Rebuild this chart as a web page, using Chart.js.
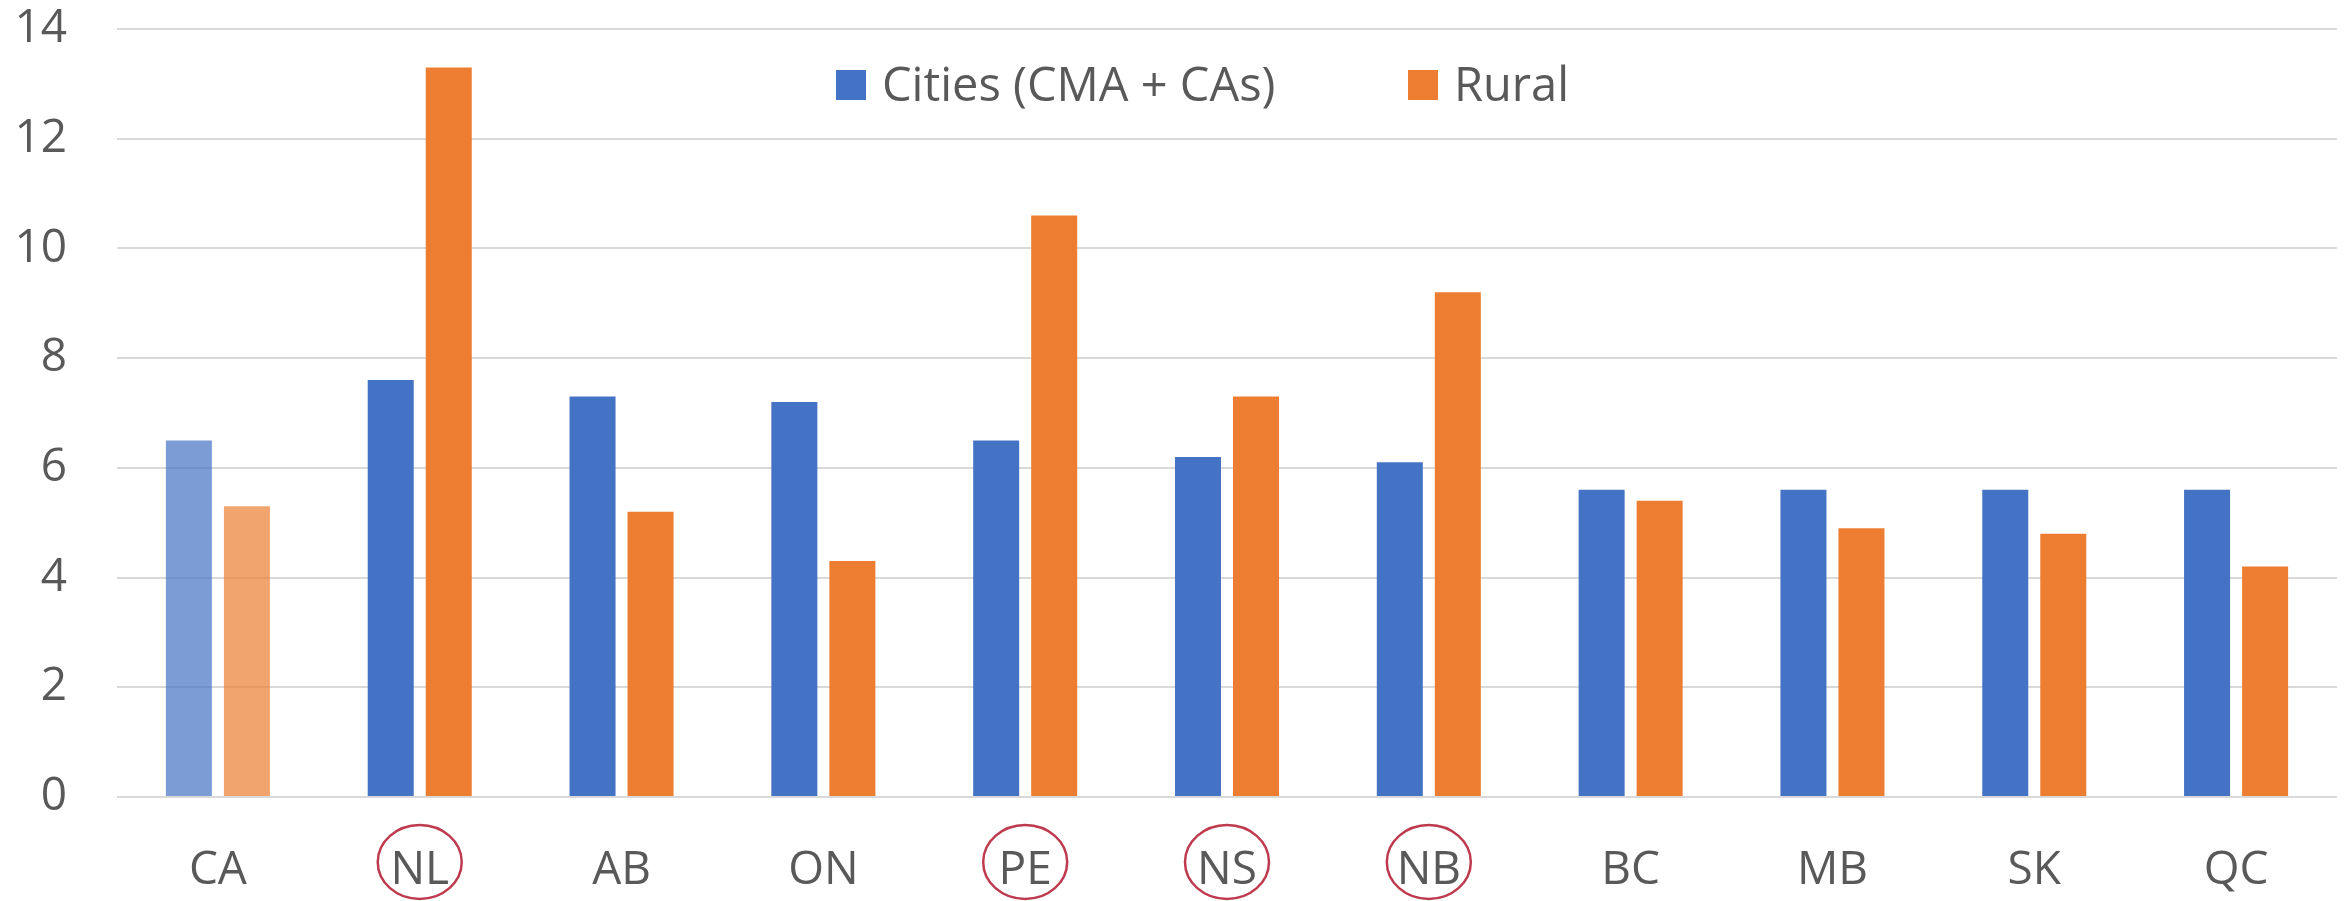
<!DOCTYPE html>
<html>
<head>
<meta charset="utf-8">
<script src="https://cdn.jsdelivr.net/npm/chart.js@4/dist/chart.umd.min.js"></script>
<style>
  html, body { margin: 0; padding: 0; background: #ffffff; }
  #wrap { width: 2348px; height: 901px; position: relative; }
</style>
</head>
<body>
<div id="wrap"><canvas id="c" width="2348" height="901"></canvas></div>
<script>
// ---- data ----
const categories = ['CA', 'NL', 'AB', 'ON', 'PE', 'NS', 'NB', 'BC', 'MB', 'SK', 'QC'];
const citiesValues = [6.5, 7.6, 7.3, 7.2, 6.5, 6.2, 6.1, 5.6, 5.6, 5.6, 5.6];
const ruralValues  = [5.3, 13.3, 5.2, 4.3, 10.6, 7.3, 9.2, 5.4, 4.9, 4.8, 4.2];
const seriesNames = ['Cities (CMA + CAs)', 'Rural'];
const yTicks = [0, 2, 4, 6, 8, 10, 12, 14];
const circledCategories = ['NL', 'PE', 'NS', 'NB'];
const highlightedFaded = ['CA'];

// ---- styles ----
const BLUE = '#4472C4', BLUE_FADED = 'rgba(68,114,196,0.7)';
const ORANGE = '#ED7D31', ORANGE_FADED = 'rgba(237,125,49,0.7)';
const TEXT = '#595959', GRID = '#D9D9D9', RING = '#BE3A4E';
const FONT = "'Open Sans', 'Noto Sans', sans-serif";

const blueColors = categories.map(c => highlightedFaded.includes(c) ? BLUE_FADED : BLUE);
const orangeColors = categories.map(c => highlightedFaded.includes(c) ? ORANGE_FADED : ORANGE);

const ringPlugin = {
  id: 'rings',
  afterDraw(chart) {
    const ctx = chart.ctx;
    const xs = chart.scales.x;
    ctx.save();
    ctx.strokeStyle = RING;
    ctx.lineWidth = 2.5;
    categories.forEach((c, i) => {
      if (!circledCategories.includes(c)) return;
      const cx = xs.getPixelForTick(i);
      ctx.beginPath();
      ctx.ellipse(cx, 862, 42, 37, 0, 0, Math.PI * 2);
      ctx.stroke();
    });
    ctx.restore();
  }
};

const legendPlugin = {
  id: 'customLegend',
  afterDraw(chart) {
    const ctx = chart.ctx;
    const items = [
      { x: 836, label: seriesNames[0], color: BLUE },
      { x: 1408, label: seriesNames[1], color: ORANGE }
    ];
    ctx.save();
    ctx.font = '47px ' + FONT;
    ctx.textBaseline = 'middle';
    ctx.textAlign = 'left';
    items.forEach(it => {
      ctx.fillStyle = it.color;
      ctx.fillRect(it.x, 70, 30, 30);
      ctx.fillStyle = TEXT;
      ctx.fillText(it.label, it.x + 46, 88);
    });
    ctx.restore();
  }
};

new Chart(document.getElementById('c'), {
  type: 'bar',
  data: {
    labels: categories,
    datasets: [
      { label: seriesNames[0], data: citiesValues, backgroundColor: blueColors, borderWidth: 0 },
      { label: seriesNames[1], data: ruralValues, backgroundColor: orangeColors, borderWidth: 0 }
    ]
  },
  options: {
    responsive: false,
    animation: false,
    devicePixelRatio: 1,
    layout: { padding: { top: 29, right: 11, bottom: 0, left: 0 } },
    datasets: { bar: { categoryPercentage: 0.575, barPercentage: 0.793 } },
    plugins: { legend: { display: false }, tooltip: { enabled: false } },
    scales: {
      x: {
        grid: { display: false, drawTicks: false },
        border: { display: false },
        ticks: { color: TEXT, font: { family: FONT, size: 46 }, padding: 46, maxRotation: 0, autoSkip: false },
        afterFit(s) { s.height = 104; }
      },
      y: {
        min: 0, max: 14,
        afterBuildTicks(s) { s.ticks = yTicks.map(v => ({ value: v })); },
        grid: { color: GRID, lineWidth: 2, drawTicks: false },
        border: { display: false },
        ticks: { color: TEXT, font: { family: FONT, size: 46 }, padding: 50 },
        afterFit(s) { s.width = 117; s.paddingTop = 0; s.paddingBottom = 0; }
      }
    }
  },
  plugins: [ringPlugin, legendPlugin]
});
</script>
</body>
</html>
